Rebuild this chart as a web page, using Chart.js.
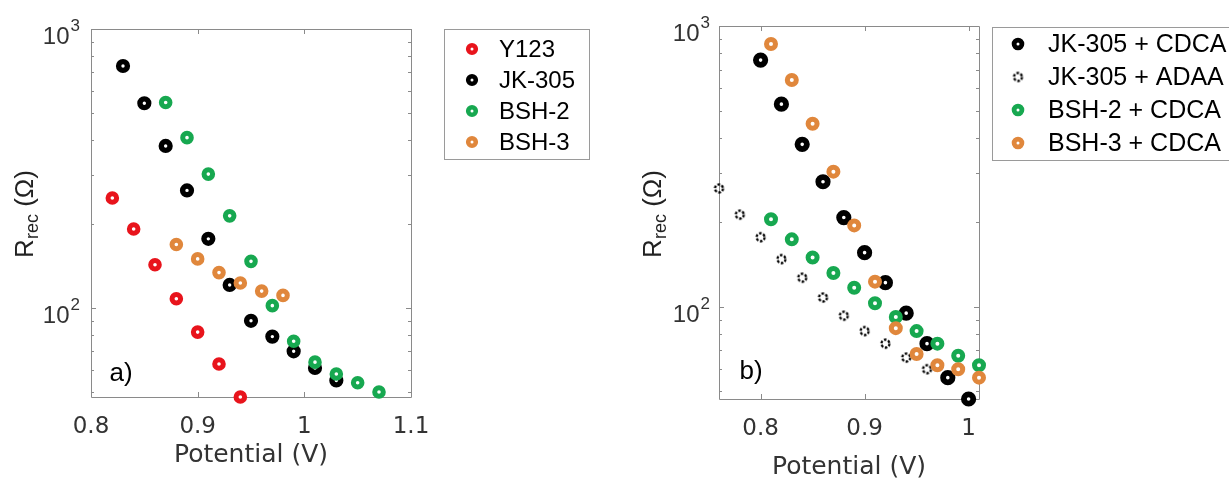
<!DOCTYPE html>
<html><head><meta charset="utf-8">
<script src="https://cdn.jsdelivr.net/npm/chart.js@4.4.1/dist/chart.umd.min.js"></script>
<style>
html,body{margin:0;padding:0;background:#fff;}
#wrap{position:relative;width:1229px;height:482px;overflow:hidden;}
canvas{position:absolute;left:0;top:0;}
</style>
</head><body>
<div id="wrap"><canvas id="ca" width="1229" height="482"></canvas><canvas id="cb" width="1229" height="482"></canvas></div>
<script>
// ---------- Panel a) data ----------
const potY123 = [0.82, 0.84, 0.86, 0.88, 0.90, 0.92, 0.94];
const rY123   = [248, 192, 143, 108, 82, 63, 48];
const potJK305 = [0.83, 0.85, 0.87, 0.89, 0.91, 0.93, 0.95, 0.97, 0.99, 1.01, 1.03];
const rJK305   = [737, 542, 381, 264, 177, 121, 90, 79, 70, 61, 55];
const potBSH2 = [0.87, 0.89, 0.91, 0.93, 0.95, 0.97, 0.99, 1.01, 1.03, 1.05, 1.07];
const rBSH2   = [545, 408, 302, 214, 147, 102, 76, 64, 58, 54, 50];
const potBSH3 = [0.88, 0.90, 0.92, 0.94, 0.96, 0.98];
const rBSH3   = [169, 150, 134, 123, 115, 111];
const namesA = ['Y123', 'JK-305', 'BSH-2', 'BSH-3'];

// ---------- Panel b) data ----------
const potJKCDCA = [0.80, 0.82, 0.84, 0.86, 0.88, 0.90, 0.92, 0.94, 0.96, 0.98, 1.00];
const rJKCDCA   = [756, 527, 379, 279, 208, 156, 122, 95, 74, 56, 47];
const potJKADAA = [0.76, 0.78, 0.80, 0.82, 0.84, 0.86, 0.88, 0.90, 0.92, 0.94, 0.96];
const rJKADAA   = [264, 213, 177, 148, 127, 108, 93, 82, 74, 66, 60];
const potBSH2C = [0.81, 0.83, 0.85, 0.87, 0.89, 0.91, 0.93, 0.95, 0.97, 0.99, 1.01];
const rBSH2C   = [205, 174, 150, 132, 117, 103, 92, 82, 74, 67, 62];
const potBSH3C = [0.81, 0.83, 0.85, 0.87, 0.89, 0.91, 0.93, 0.95, 0.97, 0.99, 1.01];
const rBSH3C   = [863, 642, 449, 303, 195, 123, 84, 68, 62, 60, 56];
const namesB = ['JK-305 + CDCA', 'JK-305 + ADAA', 'BSH-2 + CDCA', 'BSH-3 + CDCA'];

// ---------- ticks ----------
const xTicksA = [0.8, 0.9, 1.0, 1.1];
const xTickLabelsA = ['0.8', '0.9', '1', '1.1'];
const xTicksB = [0.8, 0.9, 1.0];
const xTickLabelsB = ['0.8', '0.9', '1'];
const yTicks = [100, 1000];
const yTickBase = ['10', '10'];
const yTickExp = ['2', '3'];
const xTitle = 'Potential (V)';

const RED = '#e8141c', BLACK = '#000000', GREEN = '#17a850', ORANGE = '#e0873c';

function pts(xs, ys) { return xs.map((x, i) => ({ x: x, y: ys[i] })); }

// dashed ring marker for ADAA
function dashedRing(r, lw) {
  const s = Math.ceil(2 * r + lw + 2);
  const c = document.createElement('canvas');
  c.width = s; c.height = s;
  const g = c.getContext('2d');
  g.strokeStyle = '#000'; g.lineWidth = lw;
  g.setLineDash([2.6, 1.6]);
  g.beginPath(); g.arc(s / 2, s / 2, r, 0, Math.PI * 2); g.stroke();
  return c;
}
const adaaMarker = dashedRing(4.0, 2.3);

function ring(label, data, color, r, bw, order) {
  return { label, data, pointStyle: 'circle', pointRadius: r, pointBorderWidth: bw,
    pointBackgroundColor: '#ffffff', pointBorderColor: color, borderColor: color,
    backgroundColor: '#ffffff', clip: false, order: order, _color: color };
}

const framePlugin = {
  id: 'frame',
  beforeDatasetsDraw(chart) {
    const { ctx, chartArea: a } = chart;
    const xs = chart.scales.x, ys = chart.scales.y;
    ctx.save();
    ctx.strokeStyle = '#8a8a8a';
    ctx.lineWidth = 1;
    ctx.beginPath();
    ctx.rect(Math.round(a.left) + 0.5, Math.round(a.top) + 0.5, Math.round(a.right - a.left), Math.round(a.bottom - a.top));
    ctx.stroke();
    ctx.beginPath();
    xs.ticks.forEach(t => {
      const px = Math.round(xs.getPixelForValue(t.value)) + 0.5;
      ctx.moveTo(px, a.bottom); ctx.lineTo(px, a.bottom - 5);
      ctx.moveTo(px, a.top); ctx.lineTo(px, a.top + 5);
    });
    const lo = Math.floor(Math.log10(ys.min)), hi = Math.ceil(Math.log10(ys.max));
    for (let e = lo; e <= hi; e++) {
      for (let m = 1; m <= 9; m++) {
        const v = m * Math.pow(10, e);
        if (v < ys.min || v > ys.max) continue;
        const py = Math.round(ys.getPixelForValue(v)) + 0.5;
        const len = m === 1 ? 5 : 3;
        ctx.moveTo(a.left, py); ctx.lineTo(a.left + len, py);
        ctx.moveTo(a.right, py); ctx.lineTo(a.right - len, py);
      }
    }
    ctx.stroke();
    ctx.restore();
  },
  afterDraw(chart, args, o) {
    const { ctx, chartArea: a } = chart;
    const ys = chart.scales.y;
    ctx.save();
    // y tick labels 10^n with superscript
    ctx.fillStyle = '#333';
    ctx.textBaseline = 'middle';
    yTicks.forEach((v, i) => {
      const py = ys.getPixelForValue(v);
      ctx.font = '17px "Liberation Sans"';
      ctx.textAlign = 'right';
      ctx.fillText(yTickExp[i], o.yLabRight, py - 3);
      const we = ctx.measureText(yTickExp[i]).width;
      ctx.font = '24px "Liberation Sans"';
      ctx.fillText(yTickBase[i], o.yLabRight - we - 1, py + 8);
    });
    // x title
    ctx.fillStyle = '#333';
    ctx.font = '25px "DejaVu Sans"';
    ctx.textAlign = 'center'; ctx.textBaseline = 'middle';
    ctx.fillText(xTitle, (a.left + a.right) / 2, o.xTitleY);
    // y title with subscript
    ctx.translate(o.yTitleX, o.yTitleY);
    ctx.rotate(-Math.PI / 2);
    ctx.fillStyle = '#222';
    const fBig = '26px "Liberation Sans"', fSub = '18px "Liberation Sans"';
    ctx.font = fBig; const wR = ctx.measureText('R').width; const wT = ctx.measureText(' (\u03A9)').width;
    ctx.font = fSub; const wS = ctx.measureText('rec').width;
    let x0 = -(wR + wS + wT) / 2;
    ctx.textAlign = 'left'; ctx.textBaseline = 'alphabetic';
    const base = 9;
    ctx.font = fBig; ctx.fillText('R', x0, base);
    ctx.font = fSub; ctx.fillText('rec', x0 + wR, base + 5);
    ctx.font = fBig; ctx.fillText(' (\u03A9)', x0 + wR + wS, base);
    ctx.restore();
    // panel label
    ctx.save();
    ctx.fillStyle = '#000';
    ctx.font = '26px "Liberation Sans"';
    ctx.textAlign = 'center'; ctx.textBaseline = 'middle';
    ctx.fillText(o.panel, o.panelX, o.panelY);
    ctx.restore();
    // legend
    const L = o.legend;
    ctx.save();
    ctx.fillStyle = '#fff';
    ctx.fillRect(L.x, L.y, L.w, L.h);
    ctx.strokeStyle = '#9a9a9a'; ctx.lineWidth = 1;
    ctx.strokeRect(L.x + 0.5, L.y + 0.5, L.w, L.h);
    ctx.font = L.font;
    ctx.textAlign = 'left'; ctx.textBaseline = 'middle';
    chart.data.datasets.forEach((ds, i) => {
      const y = L.y0 + i * L.dy;
      if (ds.pointStyle === 'circle') {
        ctx.beginPath();
        ctx.arc(L.mx, y, L.mr, 0, Math.PI * 2);
        ctx.fillStyle = '#fff'; ctx.fill();
        ctx.lineWidth = L.mw; ctx.strokeStyle = ds._color; ctx.stroke();
      } else {
        ctx.drawImage(ds.pointStyle, L.mx - ds.pointStyle.width / 2, y - ds.pointStyle.height / 2);
      }
      ctx.fillStyle = '#000';
      ctx.fillText(ds.label, L.tx, y + 1);
    });
    ctx.restore();
  }
};

function makeOptions(cfg) {
  return {
    responsive: false, animation: false, events: [], devicePixelRatio: 1,
    layout: { padding: cfg.padding },
    plugins: { legend: { display: false }, tooltip: { enabled: false }, frame: cfg.frame },
    scales: {
      x: { type: 'linear', min: cfg.xmin, max: cfg.xmax,
        afterBuildTicks: s => { s.ticks = cfg.xt.map(v => ({ value: v })); },
        afterFit: s => { s.height = 60; },
        grid: { display: false, drawTicks: false }, border: { display: false },
        ticks: { autoSkip: false, maxRotation: 0, padding: cfg.xpad, color: '#333',
          font: { family: 'DejaVu Sans', size: 23 },
          callback: v => { const i = cfg.xt.findIndex(t => Math.abs(t - v) < 1e-6); return i >= 0 ? cfg.xl[i] : ''; } } },
      y: { type: 'logarithmic', min: cfg.ymin, max: 1000,
        afterBuildTicks: s => { s.ticks = yTicks.map(v => ({ value: v })); },
        afterFit: s => { s.width = 60; },
        grid: { display: false, drawTicks: false }, border: { display: false },
        ticks: { display: false } }
    }
  };
}

new Chart(document.getElementById('ca'), {
  type: 'scatter',
  data: { datasets: [
    ring(namesA[0], pts(potY123, rY123), RED, 4.3, 5, 4),
    ring(namesA[1], pts(potJK305, rJK305), BLACK, 4.4, 5.4, 3),
    ring(namesA[2], pts(potBSH2, rBSH2), GREEN, 4.3, 5, 2),
    ring(namesA[3], pts(potBSH3, rBSH3), ORANGE, 4.3, 5, 1)
  ] },
  options: makeOptions({
    padding: { left: 31, right: 818, top: 29, bottom: 25 },
    xmin: 0.8, xmax: 1.1, xt: xTicksA, xl: xTickLabelsA, ymin: 48, xpad: 16,
    frame: { yLabRight: 80, xTitleY: 455, yTitleX: 24, yTitleY: 214, panel: 'a)', panelX: 121, panelY: 374,
      legend: { x: 444, y: 29, w: 145, h: 130, y0: 49, dy: 31, mx: 472, tx: 499, mr: 3.8, mw: 4.6, font: '24px "Liberation Sans"' } }
  }),
  plugins: [framePlugin]
});

const adaa = ring(namesB[1], pts(potJKADAA, rJKADAA), BLACK, 5, 1, 3);
adaa.pointStyle = adaaMarker;

new Chart(document.getElementById('cb'), {
  type: 'scatter',
  data: { datasets: [
    ring(namesB[0], pts(potJKCDCA, rJKCDCA), BLACK, 4.7, 5.8, 4),
    adaa,
    ring(namesB[2], pts(potBSH2C, rBSH2C), GREEN, 4.5, 5, 2),
    ring(namesB[3], pts(potBSH3C, rBSH3C), ORANGE, 4.5, 5, 1)
  ] },
  options: makeOptions({
    padding: { left: 659, right: 250, top: 26, bottom: 23 },
    xmin: 0.76, xmax: 1.01, xt: xTicksB, xl: xTickLabelsB, ymin: 47, xpad: 16,
    frame: { yLabRight: 710, xTitleY: 467, yTitleX: 652, yTitleY: 214, panel: 'b)', panelX: 751, panelY: 372,
      legend: { x: 992, y: 27, w: 245, h: 133, y0: 44, dy: 33, mx: 1018, tx: 1048, mr: 3.9, mw: 4.8, font: '25px "Liberation Sans"' } }
  }),
  plugins: [framePlugin]
});
</script>
</body></html>
